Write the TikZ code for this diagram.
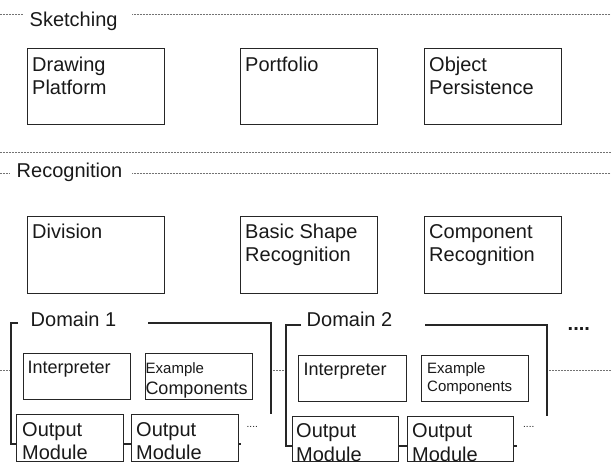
\documentclass[tikz,border=0pt]{standalone}
\usepackage{fontspec}
\setmainfont{Liberation Sans}
\usetikzlibrary{calc}

\tikzset{
  sep/.style={draw=black!55, line width=0.8pt, dash pattern=on 0.8pt off 0.7pt},
  frameline/.style={draw=black!85, line width=1.2pt},
  box/.style={draw=black!85, line width=1.2pt, fill=white, inner sep=0pt,
              anchor=north west, minimum width=#1},
  box/.default=137pt,
  lbl/.style={anchor=base west, inner sep=0pt, text=black!90,
              font=\fontsize{20}{23}\selectfont},
  lblm/.style={lbl, font=\fontsize{18}{21}\selectfont},
  lbls/.style={lbl, font=\fontsize{15}{18}\selectfont},
  dots/.style={lbl, font=\fontsize{10}{12}\selectfont},
}

\begin{document}
\begin{tikzpicture}[x=1pt, y=-1pt]
\useasboundingbox (0,0) rectangle (611,462);
\clip (0,0) rectangle (611,462);

% layer separators
\draw[sep] (0,14) -- (23,14);
\draw[sep] (132,14) -- (611,14);
\draw[sep] (0,152) -- (611,152);
\draw[sep] (0,173) -- (10,173);
\draw[sep] (132,173) -- (611,173);
\draw[sep] (0,370) -- (611,370);

% layer titles
\node[lbl] (tsk) at (29.5,26.5) {Sketching};
\node[lbl] (trec) at (16.5,177.5) {Recognition};

% sketching layer
\node[box, minimum height=76pt] (dp) at (27,48) {};
\node[box, minimum height=76pt] (pf) at (240,48) {};
\node[box, minimum height=76pt] (op) at (424,48) {};
\node[lbl] (dpA) at ($(dp.north west)+(5,24)$) {Drawing};
\node[lbl] (dpB) at ($(dp.north west)+(5,47)$) {Platform};
\node[lbl] (pfA) at ($(pf.north west)+(5,24)$) {Portfolio};
\node[lbl] (opA) at ($(op.north west)+(5,24)$) {Object};
\node[lbl] (opB) at ($(op.north west)+(5,47)$) {Persistence};

% recognition layer
\node[box, minimum height=77pt] (dv) at (27,216) {};
\node[box, minimum height=77pt] (bs) at (240,216) {};
\node[box, minimum height=77pt] (cr) at (424,216) {};
\node[lbl] (dvA) at ($(dv.north west)+(5,23)$) {Division};
\node[lbl] (bsA) at ($(bs.north west)+(5,23)$) {Basic Shape};
\node[lbl] (bsB) at ($(bs.north west)+(5,46)$) {Recognition};
\node[lbl] (crA) at ($(cr.north west)+(5,23)$) {Component};
\node[lbl] (crB) at ($(cr.north west)+(5,46)$) {Recognition};

% domain 1 frame
\fill[white] (11,323) rectangle (271,444);
\draw[frameline] (18,323) -- (11,323) -- (11,444) -- (241,444);
\draw[frameline] (148,323) -- (271,323) -- (271,414);
\node[lbl] (d1) at (30.5,327) {Domain 1};

\node[box=107pt, minimum height=46pt] (i1) at (23,353) {};
\node[box=107pt, minimum height=46pt] (e1) at (145,353) {};
\node[lblm] (i1A) at (27.5,374) {Interpreter};
\node[lbls] (e1A) at (145.5,374) {Example};
\node[lblm] (e1B) at (145.3,395) {Components};

\node[box=107pt, minimum height=47pt] (o11) at (16,414) {};
\node[box=107pt, minimum height=47pt] (o12) at (131,414) {};
\node[lbl] (o11A) at (22,437) {Output};
\node[lbl] (o11B) at (22,460) {Module};
\node[lbl] (o12A) at (136,437) {Output};
\node[lbl] (o12B) at (136,460) {Module};
\node[dots] (m1) at (246.5,428) {....};

% domain 2 frame
\fill[white] (286,325) rectangle (547,446);
\draw[frameline] (301,325) -- (286,325) -- (286,446) -- (517,446);
\draw[frameline] (425,325) -- (547,325) -- (547,416);
\node[lbl] (d2) at (306.5,327) {Domain 2};

\node[box=108pt, minimum height=46pt] (i2) at (298,355) {};
\node[box=107pt, minimum height=46pt] (e2) at (421,355) {};
\node[lblm] (i2A) at (303.5,376) {Interpreter};
\node[lbls] (e2A) at (427,374) {Example};
\node[lbls] (e2B) at (427,392) {Components};

\node[box=106pt, minimum height=45pt] (o21) at (292,416) {};
\node[box=106pt, minimum height=45pt] (o22) at (407,416) {};
\node[lbl] (o21A) at (296,438) {Output};
\node[lbl] (o21B) at (296,461) {Module};
\node[lbl] (o22A) at (412,438) {Output};
\node[lbl] (o22B) at (412,461) {Module};
\node[dots] (m2) at (523,428) {....};

% further domains
\node[lbl, font=\fontsize{20}{23}\selectfont\bfseries] (more) at (567.5,331) {....};
\end{tikzpicture}
\end{document}
